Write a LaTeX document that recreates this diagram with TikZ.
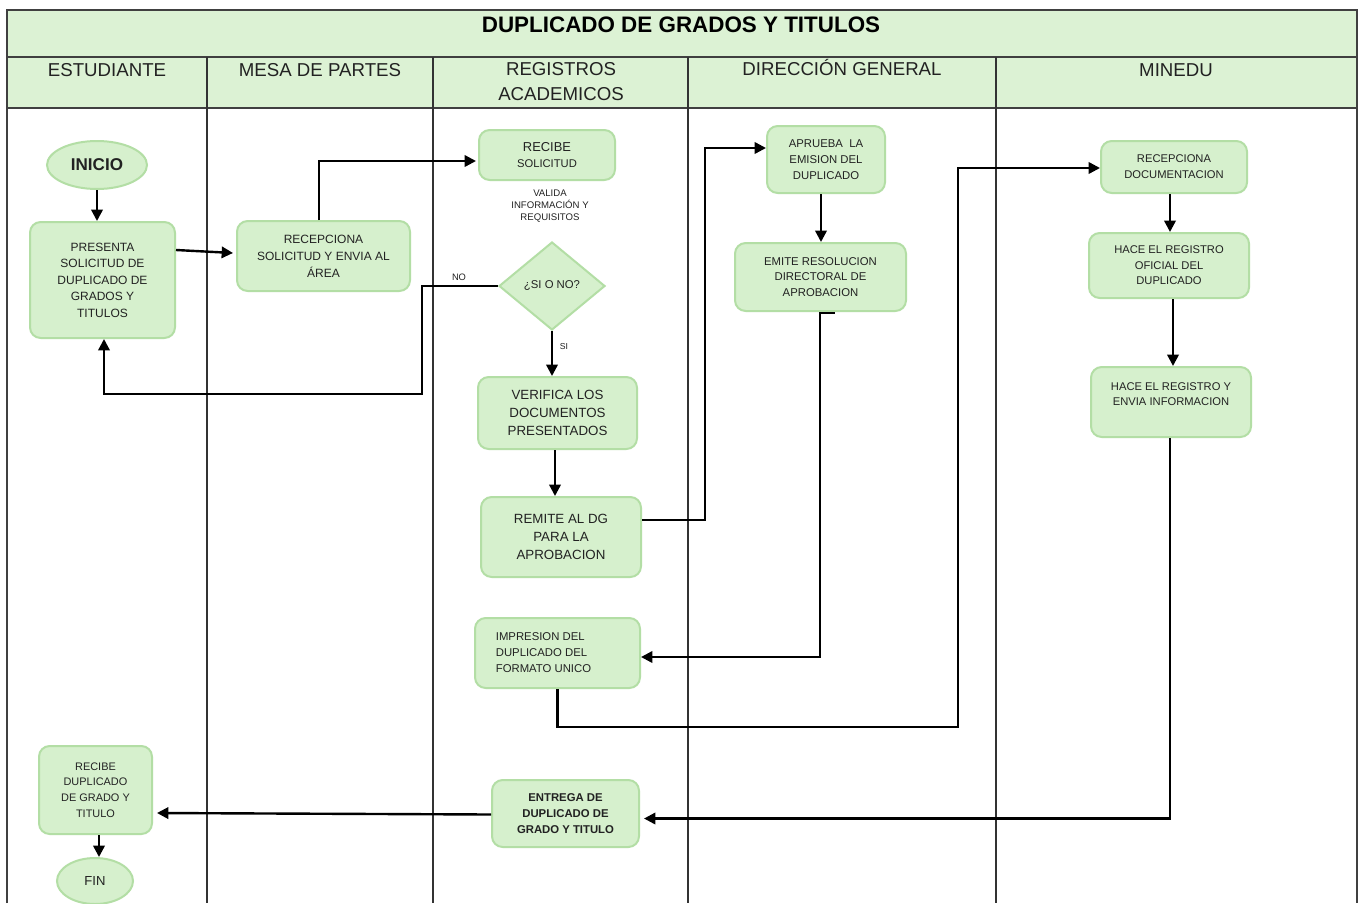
\documentclass[tikz,border=0pt]{standalone}
\usepackage{fontspec}
\setmainfont{Liberation Sans}
\usetikzlibrary{shapes.geometric,arrows.meta,calc}
\definecolor{band}{HTML}{DCF2D4}
\definecolor{nfill}{HTML}{D6F0CD}
\definecolor{ndraw}{HTML}{B3DEA5}
\definecolor{ntext}{HTML}{222222}
\begin{document}
\begin{tikzpicture}[x=0.75pt,y=-0.75pt,
  frame/.style={draw=black!75,line width=0.9pt},
  lane/.style={draw=black!80,line width=0.8pt},
  hdr/.style={font=\fontsize{14}{18.75}\selectfont,text=ntext,align=center,inner sep=0pt},
  box/.style={draw=ndraw,fill=nfill,line width=1.5pt,rounded corners=8pt,align=center,inner sep=0pt,text=ntext},
  oval/.style={draw=ndraw,fill=nfill,line width=1.5pt,ellipse,inner sep=0pt,text=ntext},
  dec/.style={draw=ndraw,fill=nfill,line width=1.5pt,diamond,inner sep=0pt,text=ntext},
  lbl/.style={inner sep=0pt,text=ntext,align=center},
  arr/.style={draw=black,line width=1.8pt,-{Triangle[length=8.5pt,width=8.5pt]}},
  ln/.style={draw=black,line width=1.8pt}
]
\useasboundingbox (0,0) rectangle (1362,903);
\fill[white] (0,0) rectangle (1362,903);
% bands
\fill[band] (7,10) rectangle (1357,108);
\draw[frame] (7,903) -- (7,10) -- (1357,10) -- (1357,903);
\draw[frame] (7,57) -- (1357,57);
\draw[frame] (7,108) -- (1357,108);
\foreach \x in {207,433,688,996} \draw[lane] (\x,57) -- (\x,903);
% title and headers
\node[font=\bfseries\fontsize{16.8}{20}\selectfont,inner sep=0pt] (title) at (681,25) {DUPLICADO DE GRADOS Y TITULOS};
\node[hdr] (h1) at (107,70) {ESTUDIANTE};
\node[hdr] (h2) at (320,70) {MESA DE PARTES};
\node[hdr] (h3) at (561,82) {REGISTROS\\ACADEMICOS};
\node[hdr] (h4) at (842,67.5) {DIRECCIÓN GENERAL};
\node[hdr] (h5) at (1176,70) {MINEDU};
% nodes
\node[oval,minimum width=75pt,minimum height=36pt,font=\bfseries\fontsize{12.8}{15}\selectfont] (inicio) at (97,165) {INICIO};
\node[box,minimum width=108.75pt,minimum height=87pt,font=\fontsize{9}{12.4}\selectfont] (presenta) at (102.5,280) {PRESENTA\\SOLICITUD DE\\DUPLICADO DE\\GRADOS Y\\TITULOS};
\node[box,minimum width=129.75pt,minimum height=52.5pt,font=\fontsize{9}{12.75}\selectfont] (recep) at (323.5,256) {RECEPCIONA\\SOLICITUD Y ENVIA AL\\ÁREA};
\node[box,minimum width=102pt,minimum height=37.5pt,font=\fontsize{9}{12}\selectfont] (recibe) at (547,155) {{\fontsize{9.7}{12}\selectfont RECIBE}\\{\fontsize{8.4}{12}\selectfont SOLICITUD}};
\node[lbl,font=\fontsize{7.2}{9}\selectfont] (valida) at (550,206) {VALIDA\\INFORMACIÓN Y\\REQUISITOS};
\node[dec,minimum width=79.5pt,minimum height=66pt,font=\fontsize{8.5}{10}\selectfont] (dia) at (552,286) {¿SI O NO?};
\node[box,minimum width=119.25pt,minimum height=54pt,font=\fontsize{10}{13.5}\selectfont] (verifica) at (557.5,413) {VERIFICA LOS\\DOCUMENTOS\\PRESENTADOS};
\node[box,minimum width=120pt,minimum height=60pt,font=\fontsize{10}{13.5}\selectfont] (remite) at (561,537) {REMITE AL DG\\PARA LA\\APROBACION};
\node[box,minimum width=123.75pt,minimum height=52.5pt,font=\fontsize{8.5}{12}\selectfont] (impresion) at (557.5,653) {\begin{tabular}{@{}l@{}}IMPRESION DEL\\DUPLICADO DEL\\FORMATO UNICO\end{tabular}\hspace{21pt}};
\node[box,minimum width=88.5pt,minimum height=50.25pt,font=\fontsize{8.5}{12}\selectfont] (aprueba) at (826,159.5) {APRUEBA~ LA\\EMISION DEL\\DUPLICADO};
\node[box,minimum width=128.25pt,minimum height=51pt,font=\fontsize{8.5}{11.6}\selectfont] (emite) at (820.5,277) {EMITE RESOLUCION\\DIRECTORAL DE\\APROBACION};
\node[box,minimum width=109.5pt,minimum height=39pt,font=\fontsize{8.4}{12}\selectfont] (recdoc) at (1174,167) {RECEPCIONA\\DOCUMENTACION};
\node[box,minimum width=120pt,minimum height=48.75pt,font=\fontsize{8.4}{11.6}\selectfont] (oficial) at (1169,265.5) {HACE EL REGISTRO\\OFICIAL DEL\\DUPLICADO};
\node[box,minimum width=120pt,minimum height=52.5pt,font=\fontsize{8.4}{11.6}\selectfont] (envia) at (1171,402) {HACE EL REGISTRO Y\\ENVIA INFORMACION\\~};
\node[box,minimum width=110.25pt,minimum height=50.25pt,font=\bfseries\fontsize{8.5}{12}\selectfont] (entrega) at (565.5,813.5) {ENTREGA DE\\DUPLICADO DE\\GRADO Y TITULO};
\node[box,minimum width=84.75pt,minimum height=66pt,font=\fontsize{8.2}{11.8}\selectfont] (recdup) at (95.5,790) {RECIBE\\DUPLICADO\\DE GRADO Y\\TITULO};
\node[oval,minimum width=57pt,minimum height=34.5pt,font=\fontsize{9.8}{12}\selectfont] (fin) at (95,881) {FIN};
% connector labels
\node[lbl,font=\fontsize{7}{8}\selectfont] (no) at (459,277) {NO};
\node[lbl,font=\fontsize{6.5}{8}\selectfont] (si) at (564,347) {SI};
% connectors
\draw[arr] (inicio.south) -- (presenta.north -| inicio.south);
\draw[arr] ($(presenta.east)+(0,-30)$) -- ($(recep.west)+(-3,-3)$);
\draw[arr] ($(recep.north)+(-4.5,0)$) |- ($(recibe.west)+(-2,6)$);
\draw[arr] (dia.west) -- (422,286) -- (422,394) -| ($(presenta.south)+(1.5,0)$);
\draw[arr] (dia.south) -- (verifica.north -| dia.south);
\draw[arr] ($(verifica.south)+(-2.5,0)$) -- ($(remite.north)+(-6,0)$);
\draw[arr] ($(remite.east)+(0,-17)$) -- (705,520) |- ($(aprueba.west)+(0,-11.5)$);
\draw[arr] ($(aprueba.south)+(-5,0)$) -- ($(emite.north)+(0.5,0)$);
\draw[arr] ($(emite.south)+(14,1)$) -- ($(emite.south)+(-0.5,1)$) |- ($(impresion.east)+(0,4)$);
\draw[arr] (impresion.south) |- (958,727) |- ($(recdoc.west)+(0,1)$);
\draw[arr] ($(recdoc.south)+(-4,0)$) -- ($(oficial.north)+(1,0)$);
\draw[arr] ($(oficial.south)+(4,0)$) -- ($(envia.north)+(2,0)$);
\draw[arr] ($(envia.south)+(-1,0)$) |- ($(entrega.east)+(4,5)$);
\draw[arr] ($(entrega.west)+(0,1)$) -- ($(recdup.east)+(4,23)$);
\draw[arr] ($(recdup.south)+(3.5,0)$) -- ($(fin.north)+(4,0)$);
\end{tikzpicture}
\end{document}
